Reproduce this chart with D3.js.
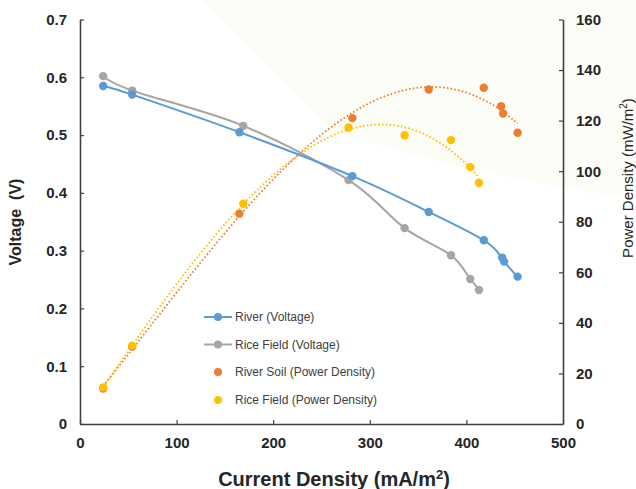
<!DOCTYPE html>
<html>
<head>
<meta charset="utf-8">
<script src="https://cdn.jsdelivr.net/npm/d3@7"></script>
<style>
  html, body { margin: 0; padding: 0; background: #fff; }
  svg { display: block; font-family: Arial, "Liberation Sans", sans-serif; }
</style>
</head>
<body>
<svg id="chart" width="636" height="489"></svg>
<script>
// ---- Data ----
const riverCurrent = [24, 54, 165, 282, 361, 418, 437, 439, 453];
const riverVoltage = [0.585, 0.570, 0.505, 0.429, 0.367, 0.318, 0.288, 0.281, 0.255];
const riceCurrent = [24, 54, 169, 278, 336, 384, 404, 413];
const riceVoltage = [0.602, 0.577, 0.516, 0.422, 0.339, 0.292, 0.251, 0.232];
const riverSoilCurrent = [24, 54, 165, 282, 361, 418, 436, 438, 453];
const riverSoilPower = [14.0, 30.6, 83.2, 121.0, 132.3, 133.0, 125.7, 122.8, 115.2];
const riceFieldCurrent = [24, 54, 169, 278, 336, 384, 404, 413];
const riceFieldPower = [14.5, 31.0, 87.1, 117.3, 114.2, 112.3, 101.6, 95.4];
const xTicks = [0, 100, 200, 300, 400, 500];
const yLeftTicks = [0, 0.1, 0.2, 0.3, 0.4, 0.5, 0.6, 0.7];
const yRightTicks = [0, 20, 40, 60, 80, 100, 120, 140, 160];
const legendLabels = ["River (Voltage)", "Rice Field (Voltage)", "River Soil (Power Density)", "Rice Field (Power Density)"];

const colors = { river: "#5B9BD5", rice: "#A5A5A5", riverSoil: "#ED7D31", riceField: "#FFC000" };

const svg = d3.select("#chart");
const m = { left: 80, right: 563, top: 19.5, bottom: 424 };

// very faint watermark-like background
const bg = svg.append("g");
bg.append("path")
  .attr("d", "M 200 0 L 636 0 L 636 200 Q 450 170 330 130 Z")
  .attr("fill", "#fdfdf7");

const x = d3.scaleLinear().domain([0, 500]).range([m.left, m.right]);
const yL = d3.scaleLinear().domain([0, 0.7]).range([m.bottom, m.top]);
const yR = d3.scaleLinear().domain([0, 160]).range([m.bottom, m.top]);

const axisColor = "#404040";
const tickFont = "bold 15px Arial, 'Liberation Sans', sans-serif";

// Axes
const gx = svg.append("g").attr("transform", `translate(0,${m.bottom})`)
  .call(d3.axisBottom(x).tickValues(xTicks).tickSize(-4).tickSizeOuter(0).tickPadding(10).tickFormat(d3.format("d")));
const gyl = svg.append("g").attr("transform", `translate(${m.left},0)`)
  .call(d3.axisLeft(yL).tickValues(yLeftTicks).tickSize(-4).tickSizeOuter(0).tickPadding(13).tickFormat(d => d === 0 ? "0" : d3.format(".1f")(d)));
const gyr = svg.append("g").attr("transform", `translate(${m.right},0)`)
  .call(d3.axisRight(yR).tickValues(yRightTicks).tickSize(-4).tickSizeOuter(0).tickPadding(13).tickFormat(d3.format("d")));

[gx, gyl, gyr].forEach(g => {
  g.select(".domain").attr("stroke", axisColor).attr("stroke-width", 1.6);
  g.selectAll(".tick line").attr("stroke", axisColor).attr("stroke-width", 1.2);
  g.selectAll(".tick text").attr("fill", "#262626").style("font", tickFont);
});
gx.selectAll(".tick text").attr("dy", "0.95em");

// Lines (smoothed like Excel)
const lineL = d3.line().x(d => x(d[0])).y(d => yL(d[1])).curve(d3.curveCardinal.tension(0));
const riverPts = riverCurrent.map((c, i) => [c, riverVoltage[i]]);
const ricePts = riceCurrent.map((c, i) => [c, riceVoltage[i]]);

// Trendlines: polynomial least-squares fit (order 3)
function polyFit(xs, ys, order) {
  const n = order + 1;
  const A = Array.from({ length: n }, () => new Array(n + 1).fill(0));
  xs.forEach((xv, k) => {
    const u = xv / 100;
    for (let i = 0; i < n; i++) {
      for (let j = 0; j < n; j++) A[i][j] += Math.pow(u, i + j);
      A[i][n] += Math.pow(u, i) * ys[k];
    }
  });
  for (let i = 0; i < n; i++) {
    let p = i;
    for (let r = i + 1; r < n; r++) if (Math.abs(A[r][i]) > Math.abs(A[p][i])) p = r;
    [A[i], A[p]] = [A[p], A[i]];
    for (let r = 0; r < n; r++) if (r !== i) {
      const f = A[r][i] / A[i][i];
      for (let c = i; c <= n; c++) A[r][c] -= f * A[i][c];
    }
  }
  const c = A.map((row, i) => row[n] / row[i]);
  return xv => c.reduce((s, ci, i) => s + ci * Math.pow(xv / 100, i), 0);
}
function trend(xs, ys, color) {
  const f = polyFit(xs, ys, 3);
  const lo = d3.min(xs), hi = d3.max(xs);
  const pts = d3.range(lo, hi + 0.001, (hi - lo) / 120).map(v => [v, f(v)]);
  svg.append("path")
    .attr("d", d3.line().x(d => x(d[0])).y(d => yR(d[1]))(pts))
    .attr("fill", "none").attr("stroke", color).attr("stroke-width", 1.8)
    .attr("stroke-dasharray", "1.6,2.2");
}
trend(riverSoilCurrent, riverSoilPower, colors.riverSoil);
trend(riceFieldCurrent, riceFieldPower, colors.riceField);

svg.append("path").attr("d", lineL(ricePts)).attr("fill", "none").attr("stroke", colors.rice).attr("stroke-width", 2);
svg.selectAll(".ricept").data(ricePts).join("circle")
  .attr("cx", d => x(d[0])).attr("cy", d => yL(d[1])).attr("r", 4.2).attr("fill", colors.rice);

svg.append("path").attr("d", lineL(riverPts)).attr("fill", "none").attr("stroke", colors.river).attr("stroke-width", 2);
svg.selectAll(".riverpt").data(riverPts).join("circle")
  .attr("cx", d => x(d[0])).attr("cy", d => yL(d[1])).attr("r", 4.2).attr("fill", colors.river);

const riverSoilPts = riverSoilCurrent.map((c, i) => [c, riverSoilPower[i]]);
const riceFieldPts = riceFieldCurrent.map((c, i) => [c, riceFieldPower[i]]);
svg.selectAll(".rspt").data(riverSoilPts).join("circle")
  .attr("cx", d => x(d[0])).attr("cy", d => yR(d[1])).attr("r", 4.2).attr("fill", colors.riverSoil);
svg.selectAll(".rfpt").data(riceFieldPts).join("circle")
  .attr("cx", d => x(d[0])).attr("cy", d => yR(d[1])).attr("r", 4.2).attr("fill", colors.riceField);

// Legend
const legColors = [colors.river, colors.rice, colors.riverSoil, colors.riceField];
const legY = [317, 344.5, 372, 400];
legendLabels.forEach((lab, i) => {
  const g = svg.append("g");
  if (i < 2) {
    g.append("line").attr("x1", 204).attr("x2", 232).attr("y1", legY[i]).attr("y2", legY[i])
      .attr("stroke", legColors[i]).attr("stroke-width", 2);
  }
  g.append("circle").attr("cx", 218).attr("cy", legY[i]).attr("r", 4).attr("fill", legColors[i]);
  g.append("text").attr("x", 235).attr("y", legY[i]).attr("dy", "0.35em")
    .attr("fill", "#404040").style("font", "12px Arial, 'Liberation Sans', sans-serif").text(lab);
});

// Axis titles
const xt = svg.append("text").attr("x", 334).attr("y", 486).attr("text-anchor", "middle")
  .attr("fill", "#262626").style("font", "bold 20px Arial, 'Liberation Sans', sans-serif");
xt.append("tspan").text("Current Density (mA/m");
xt.append("tspan").attr("font-size", "13px").attr("dy", "-7").text("2");
xt.append("tspan").attr("dy", "7").text(")");

svg.append("text").attr("transform", "translate(21,222) rotate(-90)").attr("text-anchor", "middle")
  .attr("fill", "#262626").style("font", "bold 16px Arial, 'Liberation Sans', sans-serif")
  .style("white-space", "pre").text("Voltage  (V)");

const yt = svg.append("text").attr("transform", "translate(633,178) rotate(-90)").attr("text-anchor", "middle")
  .attr("fill", "#262626").style("font", "15px Arial, 'Liberation Sans', sans-serif");
yt.append("tspan").text("Power Density (mW/m");
yt.append("tspan").attr("font-size", "10px").attr("dy", "-6").text("2");
yt.append("tspan").attr("dy", "6").text(")");
</script>
</body>
</html>
